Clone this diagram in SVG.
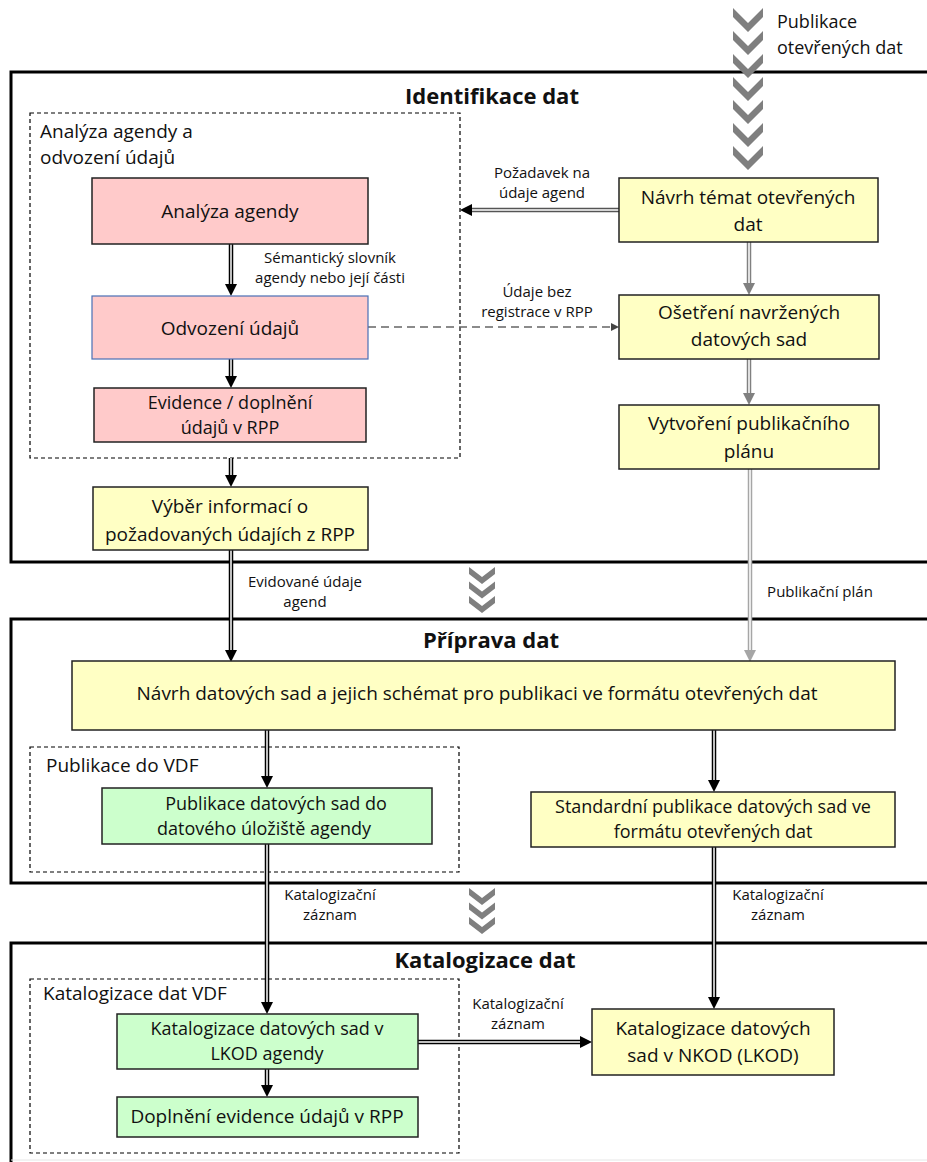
<svg xmlns="http://www.w3.org/2000/svg" width="927" height="1162" viewBox="0 0 927 1162">
<defs>
<style>
.panel{fill:none;stroke:#000;stroke-width:3}
.group{fill:none;stroke:#000;stroke-width:1.2;stroke-dasharray:4,3}
.box{stroke:#222;stroke-width:1.5}
.pink{fill:#ffcaca}
.yellow{fill:#ffffc4}
.green{fill:#ccffcc}
.t{font-family:"Open Sans","Noto Sans",sans-serif;font-size:19px;fill:#111;text-anchor:middle}
.ts{font-family:"Open Sans","Noto Sans",sans-serif;font-size:18px;fill:#111;text-anchor:middle}
.tl{font-family:"Open Sans","Noto Sans",sans-serif;font-size:19px;fill:#111}
.lab{font-family:"Open Sans","Noto Sans",sans-serif;font-size:15px;fill:#111;text-anchor:middle}
.title{font-family:"Open Sans","Noto Sans",sans-serif;font-size:22px;font-weight:bold;fill:#111;text-anchor:middle}
.o{fill:none;stroke:#000;stroke-width:4.5}
.og{fill:none;stroke:#808080;stroke-width:4.5}
.ol{fill:none;stroke:#a6a6a6;stroke-width:4.5}
.od{fill:none;stroke:#555;stroke-width:4.5}
.i{fill:none;stroke:#fff;stroke-width:1.5}
.chev{fill:#7f7f7f}
</style>
<marker id="ah" viewBox="0 0 12 12" refX="0" refY="6" markerWidth="12" markerHeight="12" markerUnits="userSpaceOnUse" orient="auto"><path d="M0,0 L12,6 L0,12 z" fill="#000"/></marker>
<marker id="ahg" viewBox="0 0 12 12" refX="0" refY="6" markerWidth="12" markerHeight="12" markerUnits="userSpaceOnUse" orient="auto"><path d="M0,0 L12,6 L0,12 z" fill="#808080"/></marker>
<marker id="ahl" viewBox="0 0 12 12" refX="0" refY="6" markerWidth="12" markerHeight="12" markerUnits="userSpaceOnUse" orient="auto"><path d="M0,0 L12,6 L0,12 z" fill="#a6a6a6"/></marker>
<marker id="ahs" viewBox="0 0 8 8" refX="0" refY="4" markerWidth="8" markerHeight="8" markerUnits="userSpaceOnUse" orient="auto"><path d="M0,0 L8,4 L0,8 z" fill="#444"/></marker>
<path id="chevL" d="M-15,0 L0,15 L15,0 L15,9 L0,24 L-15,9 z"/>
<path id="chevS" d="M-13,0 L0,10 L13,0 L13,7 L0,17 L-13,7 z"/>
</defs>

<g id="panels">
<rect class="panel" x="11" y="72" width="930" height="490"/>
<rect class="panel" x="11" y="619" width="930" height="264"/>
<rect class="panel" x="11" y="943" width="930" height="225"/>
<line x1="11" y1="1160" x2="927" y2="1160" stroke="#e6e6e6" stroke-width="1"/>
<text class="title" x="492" y="104">Identifikace dat</text>
<text class="title" x="491" y="648">Příprava dat</text>
<text class="title" x="485" y="968">Katalogizace dat</text>
</g>

<g id="chevrons" class="chev">
<use href="#chevL" x="748" y="8"/>
<use href="#chevL" x="748" y="31"/>
<use href="#chevL" x="748" y="54"/>
<use href="#chevL" x="748" y="77"/>
<use href="#chevL" x="748" y="100"/>
<use href="#chevL" x="748" y="123"/>
<use href="#chevL" x="748" y="146"/>
<use href="#chevS" x="482" y="567"/>
<use href="#chevS" x="482" y="581.5"/>
<use href="#chevS" x="482" y="596"/>
<use href="#chevS" x="482" y="888"/>
<use href="#chevS" x="482" y="902.5"/>
<use href="#chevS" x="482" y="917"/>
</g>
<g id="chevron-label">
<text class="tl" style="font-size:18px" x="777" y="28">Publikace</text>
<text class="tl" style="font-size:18px" x="777" y="54">otevřených dat</text>
</g>

<g id="groups">
<rect class="group" x="30" y="113" width="430" height="345"/>
<text class="tl" x="40" y="138">Analýza agendy a</text>
<text class="tl" x="40" y="164">odvození údajů</text>
<rect class="group" x="30" y="747" width="429" height="125"/>
<text class="tl" x="46" y="772">Publikace do VDF</text>
<rect class="group" x="30" y="979" width="429" height="174"/>
<text class="tl" x="43" y="1000">Katalogizace dat VDF</text>
</g>

<g id="connectors">
<path class="o" d="M231,244 V284" marker-end="url(#ah)"/><path class="i" d="M231,244 V284"/>
<path class="o" d="M231,359 V376" marker-end="url(#ah)"/><path class="i" d="M231,359 V376"/>
<path class="o" d="M231,458 V475" marker-end="url(#ah)"/><path class="i" d="M231,458 V475"/>
<path class="od" d="M619,210 H472" marker-end="url(#ah)"/><path class="i" d="M619,210 H472"/>
<path d="M368,327 H611" fill="none" stroke="#666" stroke-width="1.5" stroke-dasharray="8,5" marker-end="url(#ahs)"/>
<path class="og" d="M749,242 V283" marker-end="url(#ahg)"/><path class="i" d="M749,242 V283"/>
<path class="og" d="M749,359 V393" marker-end="url(#ahg)"/><path class="i" d="M749,359 V393"/>
<path class="ol" d="M750,469 V650" marker-end="url(#ahl)"/><path class="i" d="M750,469 V650"/>
<path class="o" d="M231,550 V650" marker-end="url(#ah)"/><path class="i" d="M231,550 V650"/>
<path class="o" d="M267,730 V776" marker-end="url(#ah)"/><path class="i" d="M267,730 V776"/>
<path class="o" d="M714,730 V780" marker-end="url(#ah)"/><path class="i" d="M714,730 V780"/>
<path class="o" d="M267,844 V1002" marker-end="url(#ah)"/><path class="i" d="M267,844 V1002"/>
<path class="o" d="M714,847 V997" marker-end="url(#ah)"/><path class="i" d="M714,847 V997"/>
<path class="o" d="M267,1069 V1085" marker-end="url(#ah)"/><path class="i" d="M267,1069 V1085"/>
<path class="o" d="M418,1042 H580" marker-end="url(#ah)"/><path class="i" d="M418,1042 H580"/>

<text class="lab" x="330" y="263">Sémantický slovník</text>
<text class="lab" x="330" y="283">agendy nebo její části</text>
<text class="lab" x="542" y="178">Požadavek na</text>
<text class="lab" x="542" y="198">údaje agend</text>
<text class="lab" x="537" y="297">Údaje bez</text>
<text class="lab" x="537" y="317">registrace v RPP</text>
<text class="lab" x="305" y="587">Evidované údaje</text>
<text class="lab" x="305" y="607">agend</text>
<text class="lab" x="820" y="597">Publikační plán</text>
<text class="lab" x="330" y="900">Katalogizační</text>
<text class="lab" x="330" y="920">záznam</text>
<text class="lab" x="778" y="900">Katalogizační</text>
<text class="lab" x="778" y="920">záznam</text>
<text class="lab" x="518" y="1009">Katalogizační</text>
<text class="lab" x="518" y="1029">záznam</text>
</g>

<g id="n-analyza">
<rect class="box pink" x="92" y="178" width="276" height="66"/>
<text class="t" x="230" y="218">Analýza agendy</text>
</g>
<g id="n-odvozeni">
<rect class="pink" x="92" y="296" width="276" height="63" stroke="#4a6fb5" stroke-width="1.2"/>
<text class="t" x="230" y="335">Odvození údajů</text>
</g>
<g id="n-evidence">
<rect class="box pink" x="94" y="388" width="272" height="54"/>
<text class="ts" x="230" y="409">Evidence / doplnění</text>
<text class="ts" x="230" y="434">údajů v RPP</text>
</g>
<g id="n-vyber">
<rect class="box yellow" x="93" y="487" width="275" height="63"/>
<text class="t" x="230" y="513">Výběr informací o</text>
<text class="t" x="230" y="541">požadovaných údajích z RPP</text>
</g>
<g id="n-navrh-temat">
<rect class="box yellow" x="619" y="178" width="259" height="64"/>
<text class="t" x="748" y="204">Návrh témat otevřených</text>
<text class="t" x="748" y="231">dat</text>
</g>
<g id="n-osetreni">
<rect class="box yellow" x="619" y="295" width="260" height="64"/>
<text class="t" x="749" y="319">Ošetření navržených</text>
<text class="t" x="749" y="346">datových sad</text>
</g>
<g id="n-vytvoreni">
<rect class="box yellow" x="619" y="405" width="260" height="64"/>
<text class="t" x="749" y="430">Vytvoření publikačního</text>
<text class="t" x="749" y="458">plánu</text>
</g>
<g id="n-navrh-sad">
<rect class="box yellow" x="72" y="661" width="823" height="69"/>
<text class="t" x="477" y="700">Návrh datových sad a jejich schémat pro publikaci ve formátu otevřených dat</text>
</g>
<g id="n-publikace-vdf">
<rect class="box green" x="102" y="788" width="330" height="56"/>
<text class="ts" x="276" y="810">Publikace datových sad do</text>
<text class="ts" x="264" y="835">datového úložiště agendy</text>
</g>
<g id="n-standardni">
<rect class="box yellow" x="531" y="792" width="364" height="55"/>
<text class="ts" x="713" y="813">Standardní publikace datových sad ve</text>
<text class="ts" x="713" y="838">formátu otevřených dat</text>
</g>
<g id="n-lkod">
<rect class="box green" x="117" y="1014" width="301" height="55"/>
<text class="ts" x="267" y="1035">Katalogizace datových sad v</text>
<text class="ts" x="267" y="1060">LKOD agendy</text>
</g>
<g id="n-doplneni">
<rect class="box green" x="117" y="1097" width="301" height="40"/>
<text class="t" x="267" y="1123">Doplnění evidence údajů v RPP</text>
</g>
<g id="n-nkod">
<rect class="box yellow" x="592" y="1009" width="242" height="66"/>
<text class="t" x="713" y="1035">Katalogizace datových</text>
<text class="t" x="713" y="1062">sad v NKOD (LKOD)</text>
</g>
</svg>
